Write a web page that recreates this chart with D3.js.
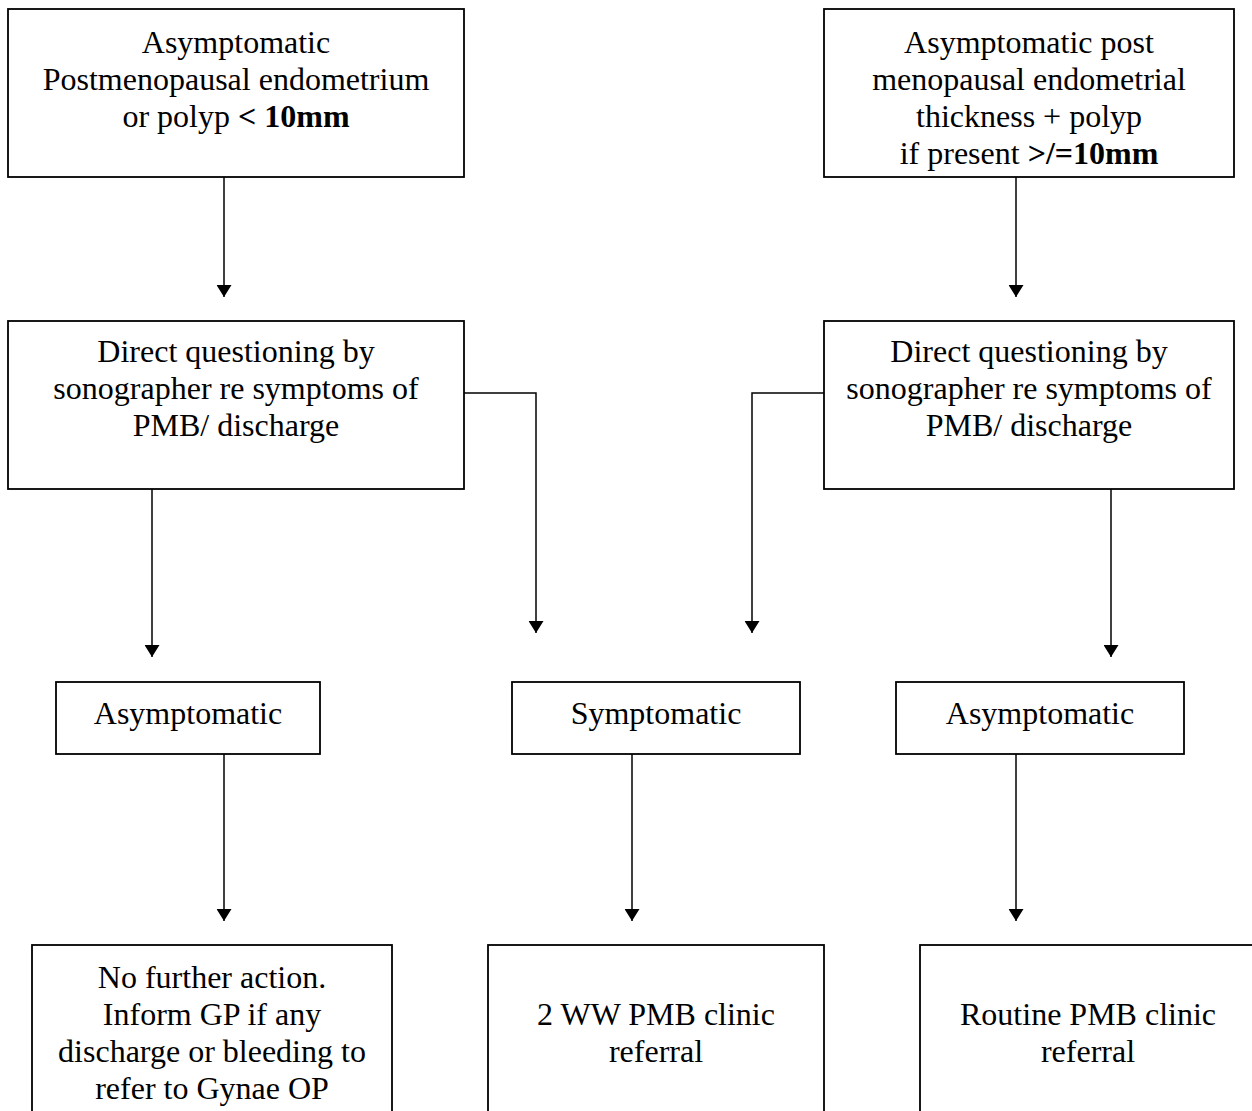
<!DOCTYPE html>
<html>
<head>
<meta charset="utf-8">
<script src="https://cdn.jsdelivr.net/npm/d3@7"></script>
<style>
  body { margin: 0; background: #fff; }
  svg text { font-family: "Liberation Serif", "Times New Roman", serif; font-size: 32px; fill: #000; }
</style>
</head>
<body>
<div id="chart"></div>
<script>
// node texts, each line is a list of [text, bold] pieces
const nodeIds = ['top1', 'top2', 'ask1', 'ask2', 'asym1', 'sym', 'asym2', 'out1', 'out2', 'out3'];
const nodeLines = [
    [[['Asymptomatic', 0]], [['Postmenopausal endometrium', 0]], [['or polyp ', 0], ['< 10mm', 1]]],
    [[['Asymptomatic post', 0]], [['menopausal endometrial', 0]], [['thickness + polyp', 0]], [['if present ', 0], ['>/=10mm', 1]]],
    [[['Direct questioning by', 0]], [['sonographer re symptoms of', 0]], [['PMB/ discharge', 0]]],
    [[['Direct questioning by', 0]], [['sonographer re symptoms of', 0]], [['PMB/ discharge', 0]]],
    [[['Asymptomatic', 0]]],
    [[['Symptomatic', 0]]],
    [[['Asymptomatic', 0]]],
    [[['No further action.', 0]], [['Inform GP if any', 0]], [['discharge or bleeding to', 0]], [['refer to Gynae OP', 0]]],
    [[['2 WW PMB clinic', 0]], [['referral', 0]]],
    [[['Routine PMB clinic', 0]], [['referral', 0]]]
];
// links: from -> to
const linkFrom = ['top1', 'top2', 'ask1', 'ask1', 'ask2', 'ask2', 'asym1', 'sym', 'asym2'];
const linkTo   = ['ask1', 'ask2', 'asym1', 'sym', 'sym', 'asym2', 'out1', 'out2', 'out3'];

// layout (page pixels)
const W = 1252, H = 1111;
const boxes = {
    top1:  {x: 8,   y: 9,   w: 456, h: 168, firstBase: 53},
    top2:  {x: 824, y: 9,   w: 410, h: 168, firstBase: 53},
    ask1:  {x: 8,   y: 321, w: 456, h: 168, firstBase: 362},
    ask2:  {x: 824, y: 321, w: 410, h: 168, firstBase: 362},
    asym1: {x: 56,  y: 682, w: 264, h: 72,  firstBase: 724},
    sym:   {x: 512, y: 682, w: 288, h: 72,  firstBase: 724},
    asym2: {x: 896, y: 682, w: 288, h: 72,  firstBase: 724},
    out1:  {x: 32,  y: 945, w: 360, h: 200, firstBase: 988},
    out2:  {x: 488, y: 945, w: 336, h: 200, firstBase: 1025},
    out3:  {x: 920, y: 945, w: 336, h: 200, firstBase: 1025}
};
// arrow routing: x of vertical drop, y of tip, optional side exit
const routes = [
    {x: 224,  tip: 297},
    {x: 1016, tip: 297},
    {x: 152,  tip: 657},
    {x: 536,  tip: 633, side: 'right', sy: 393},
    {x: 752,  tip: 633, side: 'left',  sy: 393},
    {x: 1111, tip: 657},
    {x: 224,  tip: 921},
    {x: 632,  tip: 921},
    {x: 1016, tip: 921}
];
const lineH = 37;

const svg = d3.select('#chart').append('svg')
    .attr('width', W)
    .attr('height', H);

svg.append('defs').append('marker')
    .attr('id', 'arrow')
    .attr('viewBox', '0 0 12 15')
    .attr('refX', 12)
    .attr('refY', 7.5)
    .attr('markerWidth', 12)
    .attr('markerHeight', 15)
    .attr('markerUnits', 'userSpaceOnUse')
    .attr('orient', 'auto-start-reverse')
  .append('path')
    .attr('d', 'M0,0 L12,7.5 L0,15 Z')
    .attr('fill', '#000');

// links
linkFrom.forEach((f, i) => {
    const b = boxes[f];
    const r = routes[i];
    let pts;
    if (r.side === 'right') {
        pts = [[b.x + b.w, r.sy], [r.x, r.sy], [r.x, r.tip]];
    } else if (r.side === 'left') {
        pts = [[b.x, r.sy], [r.x, r.sy], [r.x, r.tip]];
    } else {
        pts = [[r.x, b.y + b.h], [r.x, r.tip]];
    }
    svg.append('path')
        .attr('d', d3.line()(pts))
        .attr('fill', 'none')
        .attr('stroke', '#000')
        .attr('stroke-width', 1.5)
        .attr('marker-end', 'url(#arrow)');
});

// nodes
nodeIds.forEach((id, i) => {
    const b = boxes[id];
    const g = svg.append('g');
    g.append('rect')
        .attr('x', b.x)
        .attr('y', b.y)
        .attr('width', b.w)
        .attr('height', b.h)
        .attr('fill', '#fff')
        .attr('stroke', '#000')
        .attr('stroke-width', 1.8);
    nodeLines[i].forEach((line, j) => {
        const t = g.append('text')
            .attr('x', b.x + b.w / 2)
            .attr('y', b.firstBase + j * lineH)
            .attr('text-anchor', 'middle');
        line.forEach(p => {
            t.append('tspan')
                .attr('font-weight', p[1] ? 'bold' : 'normal')
                .text(p[0]);
        });
    });
});
</script>
</body>
</html>
